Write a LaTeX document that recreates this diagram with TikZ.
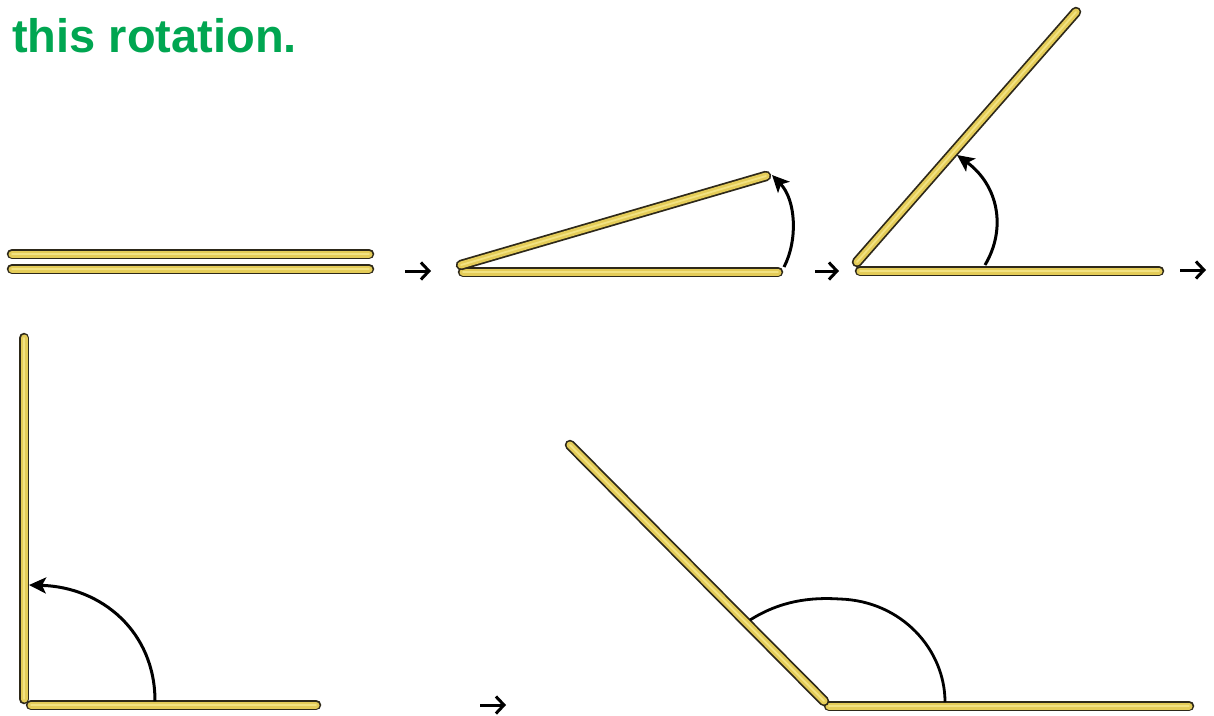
\documentclass[tikz,border=0pt]{standalone}
\usepackage{fontspec}
\setmainfont{Liberation Sans}
\usetikzlibrary{arrows.meta,calc}
\definecolor{titlegreen}{RGB}{0,166,81}
\definecolor{rodfill}{RGB}{228,204,88}
\definecolor{rodhi}{RGB}{242,226,130}
\definecolor{rodedge}{RGB}{45,40,25}
\tikzset{
  rodout/.style={draw=rodedge,line width=10.5pt,line cap=round},
  rodin/.style={draw=rodfill,line width=7pt,line cap=round},
  rodhl/.style={draw=rodhi,line width=1.8pt,line cap=round},
  turnarrow/.style={draw=black,line width=3pt,-{Stealth[length=17pt,width=16pt,inset=4pt]}},
  turnarc/.style={draw=black,line width=2.8pt},
  nextarrow/.style={draw=black,line width=3pt,-{Straight Barb[length=8pt,width=17pt]}},
  titletext/.style={font=\fontsize{47pt}{50pt}\selectfont\bfseries,text=titlegreen,inner sep=0pt}
}
\newcommand{\rodline}[2]{%
  \draw[rodout] (#1) -- (#2);
  \draw[rodin] (#1) -- (#2);
  \draw[rodhl] (#1) -- (#2);
}
\begin{document}
\begin{tikzpicture}[x=1pt,y=-1pt]
\useasboundingbox (0,0) rectangle (1214,715);
\fill[white] (0,0) rectangle (1214,715);
\node[titletext,anchor=base west] (title) at (12,52) {this rotation.};

% panel 1
\coordinate (a1) at (12,254); \coordinate (a2) at (369,254);
\coordinate (b1) at (12,269); \coordinate (b2) at (369,269);
\rodline{a1}{a2}
\rodline{b1}{b2}
\coordinate (n1s) at (405,271); \coordinate (n1e) at (431,271);
\draw[nextarrow] (n1s) -- (n1e);

% panel 2
\coordinate (c1) at (463,272); \coordinate (c2) at (778,272);
\coordinate (d1) at (461,265); \coordinate (d2) at (766,176);
\rodline{c1}{c2}
\rodline{d1}{d2}
\coordinate (t2s) at (784,267); \coordinate (t2e) at (772,175);
\draw[turnarrow] (t2s) .. controls (798,240) and (796,200) .. (t2e);
\coordinate (n2s) at (815,271); \coordinate (n2e) at (839,271);
\draw[nextarrow] (n2s) -- (n2e);

% panel 3
\coordinate (e1) at (860,271); \coordinate (e2) at (1159,271);
\coordinate (f1) at (857,262); \coordinate (f2) at (1076,12);
\rodline{e1}{e2}
\rodline{f1}{f2}
\coordinate (t3s) at (985,265); \coordinate (t3e) at (957,155);
\draw[turnarrow] (t3s) .. controls (1007,228) and (998,185) .. (t3e);
\coordinate (n3s) at (1180,270); \coordinate (n3e) at (1206,270);
\draw[nextarrow] (n3s) -- (n3e);

% panel 4
\coordinate (g1) at (24,699); \coordinate (g2) at (24,338);
\coordinate (h1) at (31,705); \coordinate (h2) at (316,705);
\rodline{g1}{g2}
\rodline{h1}{h2}
\coordinate (t4s) at (155,701); \coordinate (t4e) at (29,585);
\draw[turnarrow] (t4s) .. controls (155,632) and (102,587) .. (t4e);
\coordinate (n4s) at (480,705); \coordinate (n4e) at (506,705);
\draw[nextarrow] (n4s) -- (n4e);

% panel 5
\coordinate (i1) at (829,706); \coordinate (i2) at (1189,706);
\coordinate (j1) at (824,701); \coordinate (j2) at (570,445);
\rodline{i1}{i2}
\rodline{j1}{j2}
\coordinate (t5s) at (750,620); \coordinate (t5m) at (840,599); \coordinate (t5e) at (945,702);
\draw[turnarc] (t5s) .. controls (780,601) and (810,597) .. (t5m)
  .. controls (902,601) and (945,650) .. (t5e);
\end{tikzpicture}
\end{document}
